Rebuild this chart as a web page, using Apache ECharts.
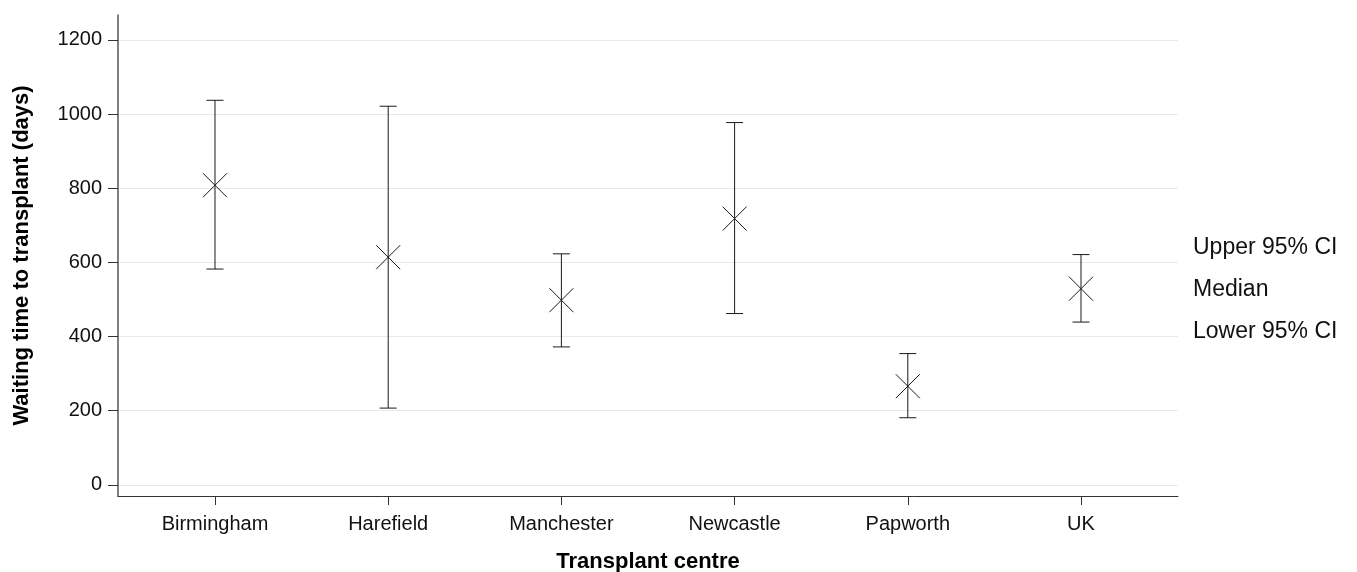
<!DOCTYPE html>
<html>
<head>
<meta charset="utf-8">
<title>Waiting time to transplant</title>
<script src="https://cdn.jsdelivr.net/npm/echarts@6/dist/echarts.min.js"></script>
<style>
  html, body { margin: 0; padding: 0; background: #fff; }
  #chart { width: 1357px; height: 572px; }
</style>
</head>
<body>
<div id="chart"></div>
<script>
// transplant centres and waiting time (days)
const categories = ['Birmingham', 'Harefield', 'Manchester', 'Newcastle', 'Papworth', 'UK']
const lowerCI = [582, 207, 372, 462, 181, 439]
const median = [808, 614, 498, 718, 266, 529]
const upperCI = [1037, 1021, 623, 977, 354, 621]
const yTicks = [0, 200, 400, 600, 800, 1000, 1200]
const legendTexts = ['Upper 95% CI', 'Median', 'Lower 95% CI']

const font = "'Liberation Sans', Arial, sans-serif"
const ink = '#1a1a1a'

const chart = echarts.init(document.getElementById('chart'))

const data = categories.map((c, i) => [i, lowerCI[i], median[i], upperCI[i]])

function renderItem(params, api) {
    const x = api.value(0)
    const lo = api.coord([x, api.value(1)])
    const md = api.coord([x, api.value(2)])
    const hi = api.coord([x, api.value(3)])
    const cap = 8.5
    const arm = 12
    const style = { stroke: ink, lineWidth: 1, fill: null }
    return {
        type: 'group',
        children: [
            { type: 'line', shape: { x1: lo[0], y1: lo[1], x2: hi[0], y2: hi[1] }, style },
            { type: 'line', shape: { x1: hi[0] - cap, y1: hi[1], x2: hi[0] + cap, y2: hi[1] }, style },
            { type: 'line', shape: { x1: lo[0] - cap, y1: lo[1], x2: lo[0] + cap, y2: lo[1] }, style },
            { type: 'line', shape: { x1: md[0] - arm, y1: md[1] - arm, x2: md[0] + arm, y2: md[1] + arm }, style },
            { type: 'line', shape: { x1: md[0] - arm, y1: md[1] + arm, x2: md[0] + arm, y2: md[1] - arm }, style }
        ]
    }
}

chart.setOption({
    animation: false,
    textStyle: { fontFamily: font },
    grid: { left: 118, right: 179, top: 15, bottom: 76, containLabel: false, outerBoundsMode: 'none' },
    xAxis: {
        type: 'value',
        min: -0.56,
        max: 5.56,
        name: 'Transplant centre',
        nameLocation: 'middle',
        nameGap: 55,
        nameTextStyle: { fontSize: 22, fontWeight: 'bold', color: '#000', fontFamily: font },
        axisLine: { onZero: false, lineStyle: { color: '#333', width: 1 } },
        axisTick: { show: true, length: 9, customValues: categories.map((c, i) => i), lineStyle: { color: '#333' } },
        axisLabel: {
            margin: 18,
            fontSize: 20,
            color: '#111',
            fontFamily: font,
            customValues: categories.map((c, i) => i),
            formatter: v => categories[Math.round(v)] ?? ''
        },
        splitLine: { show: false }
    },
    yAxis: {
        type: 'value',
        min: -30,
        max: 1267,
        name: 'Waiting time to transplant (days)',
        nameLocation: 'middle',
        nameGap: 85,
        nameTextStyle: { fontSize: 22, fontWeight: 'bold', color: '#000', fontFamily: font },
        axisLine: { show: true, onZero: false, lineStyle: { color: '#555', width: 1.5 } },
        axisTick: { show: true, length: 10, customValues: yTicks, lineStyle: { color: '#333' } },
        axisLabel: {
            margin: 16,
            fontSize: 20,
            color: '#111',
            fontFamily: font,
            customValues: yTicks,
            formatter: v => String(v)
        },
        splitLine: { show: true, lineStyle: { color: '#e9e9e9', width: 1 } }
    },
    graphic: legendTexts.map((t, i) => ({
        type: 'text',
        x: 1193,
        y: [248, 290, 332][i],
        style: { text: t, fill: '#111', font: '23px ' + font, verticalAlign: 'middle', align: 'left' }
    })),
    series: [{
        type: 'custom',
        renderItem,
        data,
        encode: { x: 0, y: [1, 2, 3] },
        silent: true
    }]
})
</script>
</body>
</html>
